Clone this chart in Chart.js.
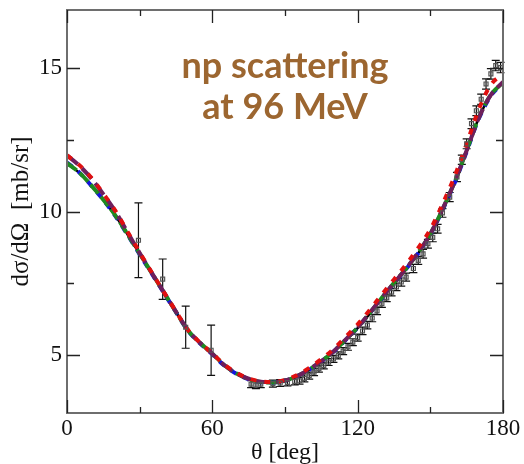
<!DOCTYPE html>
<html>
<head>
<meta charset="utf-8">
<script src="https://cdn.jsdelivr.net/npm/chart.js@4.4.0/dist/chart.umd.min.js"></script>
<style>
    html, body { margin: 0; padding: 0; background: #fff; }
    #wrap { width: 524px; height: 464px; }
</style>
</head>
<body>
<div id="wrap"><canvas id="np-chart" width="524" height="464"></canvas></div>
<script>
// 理论曲线 (角度, 截面)
const thetaCurve = [0, 5, 10, 15, 20, 25, 30, 35, 40, 45, 50, 55, 60, 65, 70, 75, 80, 85, 90,
    95, 100, 105, 110, 115, 120, 125, 130, 135, 140, 145, 150, 155, 160, 165, 170, 175, 180];
const sigmaBlack = [11.66, 11.35, 10.9, 10.4, 9.85, 9.2, 8.52, 7.85, 7.18, 6.5, 5.85, 5.42, 5.05, 4.65, 4.37, 4.18, 4.08, 4.06, 4.12,
    4.27, 4.5, 4.78, 5.12, 5.52, 5.95, 6.45, 6.98, 7.5, 8.0, 8.55, 9.2, 10.05, 11.0, 12.1, 13.25, 14.05, 14.49];
const sigmaBlue = [11.7, 11.36, 10.9, 10.4, 9.84, 9.19, 8.51, 7.84, 7.17, 6.5, 5.85, 5.41, 5.04, 4.64, 4.36, 4.17, 4.07, 4.06, 4.12,
    4.27, 4.5, 4.79, 5.13, 5.53, 5.96, 6.46, 6.98, 7.5, 8.0, 8.55, 9.2, 10.04, 10.98, 12.08, 13.22, 14.02, 14.47];
const sigmaGreen = [11.68, 11.36, 10.91, 10.41, 9.86, 9.21, 8.53, 7.86, 7.19, 6.51, 5.86, 5.43, 5.06, 4.66, 4.37, 4.18, 4.08, 4.06, 4.12,
    4.28, 4.51, 4.8, 5.14, 5.54, 5.97, 6.47, 7.0, 7.52, 8.02, 8.57, 9.22, 10.07, 11.02, 12.12, 13.26, 14.06, 14.48];
const sigmaRed = [11.95, 11.62, 11.18, 10.62, 10.02, 9.3, 8.58, 7.88, 7.2, 6.53, 5.88, 5.44, 5.07, 4.68, 4.4, 4.2, 4.1, 4.08, 4.15,
    4.32, 4.57, 4.87, 5.22, 5.64, 6.08, 6.58, 7.12, 7.64, 8.16, 8.74, 9.38, 10.25, 11.22, 12.35, 13.55, 14.4, 14.78];
const sigmaPurple = [11.95, 11.6, 11.15, 10.6, 10.0, 9.28, 8.56, 7.87, 7.19, 6.52, 5.87, 5.43, 5.06, 4.66, 4.38, 4.19, 4.09, 4.07, 4.13,
    4.28, 4.52, 4.8, 5.14, 5.55, 5.98, 6.48, 7.0, 7.52, 8.02, 8.58, 9.22, 10.08, 11.02, 12.12, 13.25, 14.05, 14.5];

// 实验数据 (角度, 截面, 误差)
const thetaData = [29.5, 39.5, 49, 59.5,
    76, 78, 80, 85, 88, 91, 94, 96, 98, 100, 102, 104, 106, 108, 110, 112, 114, 116, 118, 120,
    122, 124, 126, 128, 130, 132, 134, 136, 138, 140, 143, 145, 147, 149, 151, 153, 155, 158,
    161, 163, 165, 167, 169, 171, 173, 175, 177, 179];
const sigmaData = [9.0, 7.65, 5.98, 5.18,
    4.0, 3.97, 4.0, 4.02, 4.04, 4.06, 4.1, 4.12, 4.2, 4.3, 4.42, 4.54, 4.65, 4.77, 4.88, 5.0, 5.15, 5.3, 5.46, 5.62,
    5.85, 6.05, 6.3, 6.55, 6.8, 7.0, 7.2, 7.38, 7.55, 7.72, 8.02, 8.3, 8.53, 8.88, 9.1, 9.4, 9.95, 10.5,
    11.2, 11.8, 12.35, 13.05, 13.5, 13.9, 14.43, 14.78, 15.07, 15.0];
const sigmaErr = [1.3, 0.7, 0.73, 0.87,
    0.12, 0.12, 0.12, 0.12, 0.12, 0.12, 0.12, 0.12, 0.12, 0.12, 0.12, 0.12, 0.12, 0.12, 0.12, 0.12, 0.12, 0.12, 0.12, 0.12,
    0.13, 0.13, 0.13, 0.13, 0.13, 0.13, 0.13, 0.13, 0.14, 0.14, 0.14, 0.14, 0.15, 0.15, 0.15, 0.15, 0.15, 0.16,
    0.16, 0.16, 0.17, 0.17, 0.17, 0.18, 0.18, 0.18, 0.18, 0.18];

// 坐标轴刻度
const xTicks = [0, 60, 120, 180];
const xMinorTicks = [30, 90, 150];
const yTicks = [5, 10, 15];
const yMinorTicks = [7.5, 12.5];

// 标注文字
const noteLines = ['np scattering', 'at 96 MeV'];
const noteTheta = 90;
const noteSigma = [14.65, 13.2];

const serif = '"Liberation Serif", "Times New Roman", serif';

function curve(values) {
    return thetaCurve.map((t, i) => ({ x: t, y: values[i] }));
}

// 边框和向内的刻度
const framePlugin = {
    id: 'frame',
    afterDraw(chart) {
        const { ctx, chartArea: a, scales: { x, y } } = chart;
        ctx.save();
        ctx.strokeStyle = '#6e6e6e';
        ctx.lineWidth = 2;
        ctx.strokeRect(a.left, a.top, a.right - a.left, a.bottom - a.top);
        ctx.strokeStyle = '#222';
        ctx.lineWidth = 1.3;
        const tick = (v, len, isX) => {
            ctx.beginPath();
            if (isX) {
                const p = Math.round(x.getPixelForValue(v)) + 0.5;
                ctx.moveTo(p, a.bottom); ctx.lineTo(p, a.bottom - len);
                ctx.moveTo(p, a.top); ctx.lineTo(p, a.top + len);
            } else {
                const p = Math.round(y.getPixelForValue(v)) + 0.5;
                ctx.moveTo(a.left, p); ctx.lineTo(a.left + len, p);
                ctx.moveTo(a.right, p); ctx.lineTo(a.right - len, p);
            }
            ctx.stroke();
        };
        xTicks.forEach(v => tick(v, 13, true));
        xMinorTicks.forEach(v => tick(v, 6, true));
        yTicks.forEach(v => tick(v, 13, false));
        yMinorTicks.forEach(v => tick(v, 7, false));

        // 标题文字
        ctx.fillStyle = '#9c6630';
        ctx.font = 'bold 36px Lato, "Open Sans", sans-serif';
        ctx.textAlign = 'center';
        ctx.textBaseline = 'alphabetic';
        noteLines.forEach((line, i) => {
            ctx.fillText(line, x.getPixelForValue(noteTheta), y.getPixelForValue(noteSigma[i]));
        });
        ctx.restore();
    }
};

// 误差棒
const errorBarPlugin = {
    id: 'errorBars',
    beforeDatasetsDraw(chart) {
        const { ctx, scales: { x, y } } = chart;
        ctx.save();
        ctx.strokeStyle = '#111';
        ctx.lineWidth = 1.2;
        thetaData.forEach((t, i) => {
            const px = x.getPixelForValue(t);
            const top = y.getPixelForValue(sigmaData[i] + sigmaErr[i]);
            const bot = y.getPixelForValue(sigmaData[i] - sigmaErr[i]);
            ctx.beginPath();
            ctx.moveTo(px, top); ctx.lineTo(px, bot);
            ctx.moveTo(px - 4, top); ctx.lineTo(px + 4, top);
            ctx.moveTo(px - 4, bot); ctx.lineTo(px + 4, bot);
            ctx.stroke();
        });
        ctx.restore();
    }
};

const lineStyle = (color, dash, width) => ({
    showLine: true,
    borderColor: color,
    backgroundColor: color,
    borderWidth: width,
    borderDash: dash,
    pointRadius: 0,
    tension: 0.4,
    cubicInterpolationMode: 'monotone',
    fill: false
});

new Chart(document.getElementById('np-chart'), {
    type: 'scatter',
    data: {
        datasets: [
            {
                label: 'data',
                data: thetaData.map((t, i) => ({ x: t, y: sigmaData[i] })),
                pointStyle: 'rect',
                pointRadius: 2.8,
                borderColor: '#555',
                backgroundColor: 'rgba(0,0,0,0)',
                borderWidth: 1.2
            },
            { label: 'red', data: curve(sigmaRed), ...lineStyle('#e01010', [6, 8], 4) },
            { label: 'purple', data: curve(sigmaPurple), ...lineStyle('#6e1f5c', [14, 6], 4) },
            { label: 'green', data: curve(sigmaGreen), ...lineStyle('#1f8a1f', [12, 4], 4) },
            { label: 'blue', data: curve(sigmaBlue), ...lineStyle('#1414e0', [7, 7], 4) },
            { label: 'black', data: curve(sigmaBlack), ...lineStyle('#000', [], 2.5) }
        ]
    },
    options: {
        responsive: false,
        animation: false,
        devicePixelRatio: 1,
        layout: { padding: { top: 10, right: 21, left: 0, bottom: 0 } },
        plugins: {
            legend: { display: false },
            tooltip: { enabled: false }
        },
        scales: {
            x: {
                type: 'linear',
                min: 0,
                max: 180,
                afterBuildTicks: s => { s.ticks = xTicks.map(v => ({ value: v })); },
                afterFit: s => { s.height = 51; s.paddingLeft = 0; s.paddingRight = 0; },
                grid: { display: false, drawTicks: false },
                border: { display: false },
                ticks: { font: { family: serif, size: 23 }, color: '#111', padding: 2, maxRotation: 0 },
                title: {
                    display: true,
                    text: 'θ [deg]',
                    font: { family: serif, size: 24, lineHeight: 1 },
                    color: '#111',
                    padding: { top: 0, bottom: -1 }
                }
            },
            y: {
                type: 'linear',
                min: 3,
                max: 17,
                afterBuildTicks: s => { s.ticks = yTicks.map(v => ({ value: v })); },
                afterFit: s => { s.width = 67; s.paddingTop = 0; s.paddingBottom = 0; },
                grid: { display: false, drawTicks: false },
                border: { display: false },
                ticks: { font: { family: serif, size: 23 }, color: '#111', padding: 5 },
                title: {
                    display: true,
                    text: 'dσ/dΩ  [mb/sr]',
                    font: { family: serif, size: 25, lineHeight: 1 },
                    color: '#111',
                    padding: { top: 9, bottom: 0 }
                }
            }
        }
    },
    plugins: [errorBarPlugin, framePlugin]
});
</script>
</body>
</html>
